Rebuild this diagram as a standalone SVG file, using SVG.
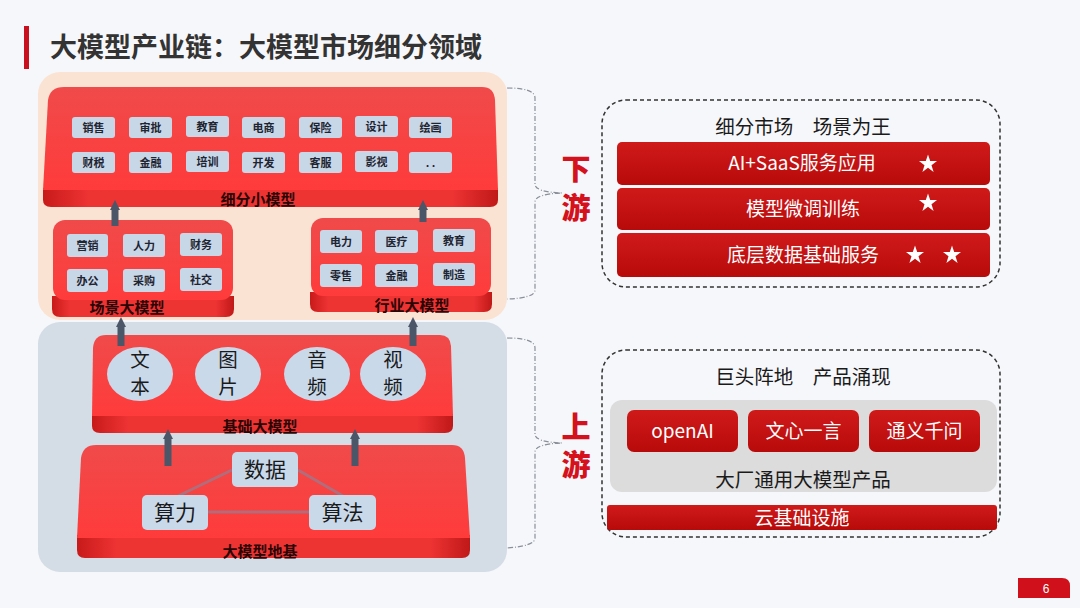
<svg xmlns="http://www.w3.org/2000/svg" width="1080" height="608" viewBox="0 0 1080 608">
<defs>
<style>
.cn{font-family:"Noto Sans CJK SC","Noto Sans",sans-serif}
.btn{fill:#c7d7e8}
.btxt{font-family:"Noto Sans CJK SC",sans-serif;font-size:11px;font-weight:700;fill:#1e2430;text-anchor:middle}
.lbl{font-family:"Noto Sans CJK SC",sans-serif;font-size:15px;font-weight:700;fill:#2a0505;text-anchor:middle}
.big{font-family:"Noto Sans CJK SC",sans-serif;font-size:21px;fill:#1a1a1a;text-anchor:middle}
.oval{font-family:"Noto Sans CJK SC",sans-serif;font-size:19.5px;fill:#1a1a1a;text-anchor:middle}
.wt{font-family:"Noto Sans CJK SC","Noto Sans",sans-serif;font-size:19px;fill:#ffffff;text-anchor:middle}
.dk{font-family:"Noto Sans CJK SC",sans-serif;font-size:19.5px;fill:#1a1a1a;text-anchor:middle}
.bar{fill:url(#barg)}
.ud{font-family:"Noto Sans CJK SC",sans-serif;font-size:29px;font-weight:900;fill:#d4111c;text-anchor:middle}
.brk{fill:none;stroke:#8a8f99;stroke-width:1.2;stroke-dasharray:5 2 1 2}
.dash{fill:none;stroke:#333;stroke-width:1.5;stroke-dasharray:4 3}
.arr{stroke:#4b5668;stroke-width:7;fill:none}
.link{stroke:#a0788a;stroke-width:3;opacity:0.8}
</style>
<linearGradient id="topg" x1="0" y1="0" x2="0" y2="1">
<stop offset="0" stop-color="#f04a4a"/>
<stop offset="1" stop-color="#ff3b3b"/>
</linearGradient>
<linearGradient id="bandg" x1="0" y1="0" x2="1" y2="0">
<stop offset="0" stop-color="#c81a1a"/>
<stop offset="0.1" stop-color="#ee3333"/>
<stop offset="0.9" stop-color="#ee3333"/>
<stop offset="1" stop-color="#c01818"/>
</linearGradient>
<linearGradient id="barg" x1="0" y1="0" x2="0" y2="1">
<stop offset="0" stop-color="#d01a1a"/>
<stop offset="1" stop-color="#b80a0a"/>
</linearGradient>
<marker id="ah" viewBox="0 0 10 10" refX="1" refY="5" markerWidth="10" markerHeight="15" markerUnits="userSpaceOnUse" orient="auto">
<path d="M0 0 L10 5 L0 10 Z" fill="#4b5668"/>
</marker>
<symbol id="star" viewBox="-10 -10 20 20">
<path d="M0 -9.5 L2.2 -3 L9 -3 L3.5 1.2 L5.6 8 L0 3.8 L-5.6 8 L-3.5 1.2 L-9 -3 L-2.2 -3 Z" fill="#ffffff"/>
</symbol>
</defs>
<rect width="1080" height="608" fill="#f6f7fa"/>

<g id="title">
<rect x="24" y="26" width="5" height="43" fill="#c8101e"/>
<text x="50" y="57" class="cn" font-size="27" font-weight="700" fill="#333">大模型产业链：大模型市场细分领域</text>
</g>

<g id="panels">
<rect x="38" y="72" width="469" height="248" rx="22" fill="#fbe3d3"/>
<rect x="38" y="322" width="469" height="250" rx="22" fill="#d4dce5"/>
</g>

<g id="node-xifen">
<path d="M43 188 H498 V200 Q498 207 490 207 H51 Q43 207 43 200 Z" fill="url(#bandg)"/>
<path d="M64 87 H482 Q494 87 495 100 L498 190 H43 L48 100 Q50 87 64 87 Z" fill="url(#topg)"/>
<g>
<rect class="btn" x="72" y="117" width="43" height="21" rx="3"/><text class="btxt" x="93.5" y="131.5">销售</text>
<rect class="btn" x="129" y="117" width="43" height="21" rx="3"/><text class="btxt" x="150.5" y="131.5">审批</text>
<rect class="btn" x="186" y="116" width="43" height="21" rx="3"/><text class="btxt" x="207.5" y="130.5">教育</text>
<rect class="btn" x="242" y="117" width="43" height="21" rx="3"/><text class="btxt" x="263.5" y="131.5">电商</text>
<rect class="btn" x="299" y="117" width="43" height="21" rx="3"/><text class="btxt" x="320.5" y="131.5">保险</text>
<rect class="btn" x="355" y="116" width="43" height="21" rx="3"/><text class="btxt" x="376.5" y="130.5">设计</text>
<rect class="btn" x="409" y="117" width="43" height="21" rx="3"/><text class="btxt" x="430.5" y="131.5">绘画</text>
<rect class="btn" x="72" y="152" width="43" height="21" rx="3"/><text class="btxt" x="93.5" y="166.5">财税</text>
<rect class="btn" x="129" y="152" width="43" height="21" rx="3"/><text class="btxt" x="150.5" y="166.5">金融</text>
<rect class="btn" x="186" y="151" width="43" height="21" rx="3"/><text class="btxt" x="207.5" y="165.5">培训</text>
<rect class="btn" x="242" y="152" width="43" height="21" rx="3"/><text class="btxt" x="263.5" y="166.5">开发</text>
<rect class="btn" x="299" y="152" width="43" height="21" rx="3"/><text class="btxt" x="320.5" y="166.5">客服</text>
<rect class="btn" x="355" y="151" width="43" height="21" rx="3"/><text class="btxt" x="376.5" y="165.5">影视</text>
<rect class="btn" x="409" y="152" width="43" height="21" rx="3"/><text class="btxt" x="430.5" y="166.5">. .</text>
</g>
<text class="lbl" x="258" y="205">细分小模型</text>
</g>

<g id="node-changjing">
<path d="M52 296 H234 V309 Q234 317 226 317 H60 Q52 317 52 309 Z" fill="url(#bandg)"/>
<rect x="53" y="220" width="180" height="80" rx="12" fill="url(#topg)"/>
<rect class="btn" x="67" y="234" width="41" height="23" rx="3"/><text class="btxt" x="87.5" y="249.5">营销</text>
<rect class="btn" x="123" y="234" width="42" height="23" rx="3"/><text class="btxt" x="144" y="249.5">人力</text>
<rect class="btn" x="180" y="233" width="42" height="23" rx="3"/><text class="btxt" x="201" y="248.5">财务</text>
<rect class="btn" x="67" y="269" width="41" height="23" rx="3"/><text class="btxt" x="87.5" y="284.5">办公</text>
<rect class="btn" x="123" y="269" width="42" height="23" rx="3"/><text class="btxt" x="144" y="284.5">采购</text>
<rect class="btn" x="180" y="268" width="42" height="23" rx="3"/><text class="btxt" x="201" y="283.5">社交</text>
<text class="lbl" x="127" y="313">场景大模型</text>
</g>

<g id="node-hangye">
<path d="M310 292 H492 V304 Q492 312 484 312 H318 Q310 312 310 304 Z" fill="url(#bandg)"/>
<rect x="311" y="218" width="180" height="78" rx="12" fill="url(#topg)"/>
<rect class="btn" x="320" y="230" width="42" height="23" rx="3"/><text class="btxt" x="341" y="245.5">电力</text>
<rect class="btn" x="375" y="230" width="43" height="23" rx="3"/><text class="btxt" x="396.5" y="245.5">医疗</text>
<rect class="btn" x="433" y="229" width="42" height="23" rx="3"/><text class="btxt" x="454" y="244.5">教育</text>
<rect class="btn" x="320" y="264" width="42" height="23" rx="3"/><text class="btxt" x="341" y="279.5">零售</text>
<rect class="btn" x="375" y="264" width="43" height="23" rx="3"/><text class="btxt" x="396.5" y="279.5">金融</text>
<rect class="btn" x="433" y="263" width="42" height="23" rx="3"/><text class="btxt" x="454" y="278.5">制造</text>
<text class="lbl" x="412" y="311">行业大模型</text>
</g>

<g id="node-jichu">
<path d="M92 414 H453 V426 Q453 433 445 433 H100 Q92 433 92 426 Z" fill="url(#bandg)"/>
<path d="M106 335 H440 Q450 335 451 346 L453 416 H92 L93 348 Q94 335 106 335 Z" fill="url(#topg)"/>
<ellipse cx="140" cy="374" rx="33" ry="27" fill="#c9d9ea"/>
<ellipse cx="228" cy="374" rx="33" ry="27" fill="#c9d9ea"/>
<ellipse cx="317" cy="374" rx="33" ry="27" fill="#c9d9ea"/>
<ellipse cx="393" cy="374" rx="33" ry="27" fill="#c9d9ea"/>
<text class="oval" x="140" y="367">文</text><text class="oval" x="140" y="394">本</text>
<text class="oval" x="228" y="367">图</text><text class="oval" x="228" y="394">片</text>
<text class="oval" x="317" y="367">音</text><text class="oval" x="317" y="394">频</text>
<text class="oval" x="393" y="367">视</text><text class="oval" x="393" y="394">频</text>
<text class="lbl" x="260" y="432">基础大模型</text>
</g>

<g id="node-diji">
<path d="M77 535 H470 V550 Q470 558 462 558 H85 Q77 558 77 550 Z" fill="url(#bandg)"/>
<path d="M96 445 H452 Q464 445 465 458 L470 538 H77 L81 458 Q83 445 96 445 Z" fill="url(#topg)"/>
<line class="link" x1="232" y1="470" x2="178" y2="496"/>
<line class="link" x1="298" y1="470" x2="343" y2="496"/>
<line class="link" x1="208" y1="512" x2="309" y2="512"/>
<rect x="232" y="452" width="66" height="35" rx="5" fill="#c9d9ea"/>
<text class="big" x="265" y="477">数据</text>
<rect x="142" y="495" width="66" height="35" rx="5" fill="#c9d9ea"/>
<text class="big" x="175" y="520">算力</text>
<rect x="309" y="495" width="67" height="35" rx="5" fill="#c9d9ea"/>
<text class="big" x="342.5" y="520">算法</text>
<text class="lbl" x="260" y="557">大模型地基</text>
</g>

<g id="connectors">
<line class="arr" x1="115" y1="226" x2="115" y2="209" marker-end="url(#ah)"/>
<line class="arr" x1="423" y1="222" x2="423" y2="209" marker-end="url(#ah)"/>
<line class="arr" x1="121" y1="346" x2="121" y2="326" marker-end="url(#ah)"/>
<line class="arr" x1="413" y1="346" x2="413" y2="326" marker-end="url(#ah)"/>
<line class="arr" x1="168" y1="466" x2="168" y2="438" marker-end="url(#ah)"/>
<line class="arr" x1="355" y1="466" x2="355" y2="438" marker-end="url(#ah)"/>
</g>

<g id="brackets">
<path class="brk" d="M507 88 Q535 88 535 98 V184 Q535 192 562 193 Q535 194 535 202 V290 Q535 298 507 299"/>
<path class="brk" d="M507 338 Q535 338 535 348 V434 Q535 442 562 443 Q535 444 535 452 V538 Q535 546 507 548"/>
<text class="ud" x="576" y="180">下</text>
<text class="ud" x="576" y="219">游</text>
<text class="ud" x="576" y="438">上</text>
<text class="ud" x="576" y="476">游</text>
</g>

<g id="node-downstream">
<rect class="dash" x="602" y="100" width="398" height="187" rx="24"/>
<text class="dk" x="803" y="134">细分市场　场景为王</text>
<rect class="bar" x="617" y="142" width="373" height="43" rx="5"/>
<text class="wt" x="802" y="170">AI+SaaS服务应用</text>
<use href="#star" x="918" y="154" width="20" height="20"/>
<rect class="bar" x="617" y="188" width="373" height="42" rx="5"/>
<text class="wt" x="803" y="216">模型微调训练</text>
<use href="#star" x="918" y="193" width="20" height="20"/>
<rect class="bar" x="617" y="233" width="373" height="44" rx="5"/>
<text class="wt" x="803" y="262">底层数据基础服务</text>
<use href="#star" x="905" y="245" width="20" height="20"/>
<use href="#star" x="942" y="245" width="20" height="20"/>
</g>

<g id="node-upstream">
<rect class="dash" x="602" y="350" width="398" height="187" rx="24"/>
<text class="dk" x="803" y="384">巨头阵地　产品涌现</text>
<rect x="610" y="400" width="387" height="92" rx="12" fill="#dcdcdc"/>
<rect class="bar" x="627" y="410" width="111" height="42" rx="7"/>
<text class="wt" x="682.5" y="438" font-size="20">openAI</text>
<rect class="bar" x="748" y="410" width="111" height="42" rx="7"/>
<text class="wt" x="803.5" y="438" font-size="20">文心一言</text>
<rect class="bar" x="869" y="410" width="111" height="42" rx="7"/>
<text class="wt" x="924.5" y="438" font-size="20">通义千问</text>
<text class="dk" x="803" y="487" font-size="20">大厂通用大模型产品</text>
<rect class="bar" x="607" y="505" width="390" height="25" rx="3"/>
<text class="wt" x="802" y="525" font-size="20">云基础设施</text>
</g>

<g id="page">
<path d="M1018 578 H1062 Q1070 578 1070 586 V598 H1018 Z" fill="#d0101a"/>
<text x="1046" y="593" font-family="Liberation Sans,sans-serif" font-size="12" fill="#fff" text-anchor="middle">6</text>
</g>
</svg>
